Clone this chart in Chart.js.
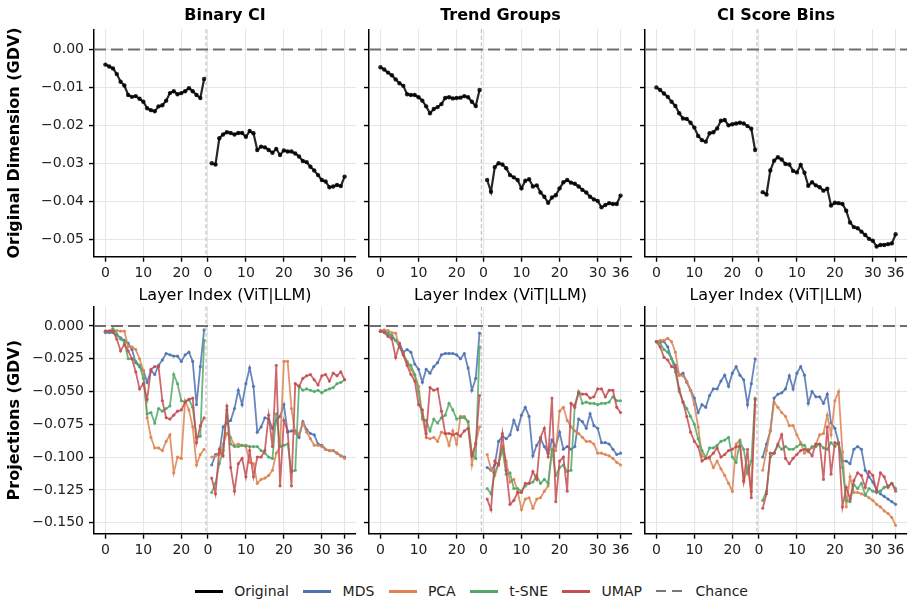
<!DOCTYPE html>
<html><head><meta charset="utf-8">
<script src="https://cdn.jsdelivr.net/npm/chart.js@4.4.1/dist/chart.umd.min.js"></script>
<style>
html,body{margin:0;padding:0;background:#fff;}
body{width:915px;height:605px;position:relative;overflow:hidden;font-family:"DejaVu Sans",sans-serif;}
canvas{position:absolute;}
.ptitle{position:absolute;top:5px;height:19px;line-height:19px;font-size:16px;font-weight:bold;text-align:center;color:#000;}
#legend{position:absolute;left:195px;top:581px;height:20px;display:flex;align-items:center;font-size:14px;color:#222;white-space:nowrap;}
.litem{display:flex;align-items:center;margin-right:14.4px;}
.litem:last-child{margin-right:0;}
.lsw{width:28px;height:3px;margin-right:11.2px;}
</style></head><body>
<div id="legend"></div>
<script>
// ---------------- DATA ----------------
const PANELS = ['Binary CI', 'Trend Groups', 'CI Score Bins'];
const METHODS = ['MDS', 'PCA', 't-SNE', 'UMAP'];
const LAYER_VIT = [0,1,2,3,4,5,6,7,8,9,10,11,12,13,14,15,16,17,18,19,20,21,22,23,24,25,26];
const LAYER_LLM = [1,2,3,4,5,6,7,8,9,10,11,12,13,14,15,16,17,18,19,20,21,22,23,24,25,26,27,28,29,30,31,32,33,34,35,36];
const X_TICKS_VIT = [0, 10, 20];
const X_TICKS_LLM = [0, 10, 20, 30, 36];
const Y_TICKS_TOP = [0, -0.01, -0.02, -0.03, -0.04, -0.05];
const Y_TICKS_BOTTOM = [0, -0.025, -0.05, -0.075, -0.1, -0.125, -0.15];
const CHANCE = 0;

// Original dimension GDV
const ORIG_BINARY_VIT = [-0.0040,-0.0045,-0.0050,-0.0065,-0.0085,-0.0095,-0.0120,-0.0125,-0.0123,-0.0130,-0.0138,-0.0155,-0.0160,-0.0163,-0.0150,-0.0147,-0.0135,-0.0115,-0.0110,-0.0118,-0.0115,-0.0110,-0.0102,-0.0110,-0.0120,-0.0128,-0.0078];
const ORIG_BINARY_LLM = [-0.0300,-0.0303,-0.0234,-0.0224,-0.0218,-0.0220,-0.0224,-0.0220,-0.0220,-0.0230,-0.0215,-0.0221,-0.0265,-0.0256,-0.0258,-0.0265,-0.0272,-0.0262,-0.0278,-0.0266,-0.0269,-0.0269,-0.0274,-0.0282,-0.0294,-0.0297,-0.0309,-0.0319,-0.0331,-0.0344,-0.0348,-0.0363,-0.0361,-0.0357,-0.0360,-0.0335];
const ORIG_TREND_VIT = [-0.0047,-0.0053,-0.0061,-0.0068,-0.0079,-0.0089,-0.0096,-0.0118,-0.0120,-0.0120,-0.0126,-0.0135,-0.0150,-0.0168,-0.0157,-0.0152,-0.0144,-0.0128,-0.0126,-0.0129,-0.0128,-0.0127,-0.0123,-0.0126,-0.0138,-0.0149,-0.0107];
const ORIG_TREND_LLM = [-0.0344,-0.0375,-0.0310,-0.0300,-0.0303,-0.0313,-0.0331,-0.0337,-0.0344,-0.0366,-0.0346,-0.0342,-0.0361,-0.0358,-0.0377,-0.0388,-0.0404,-0.0390,-0.0384,-0.0366,-0.0350,-0.0344,-0.0351,-0.0354,-0.0361,-0.0370,-0.0377,-0.0388,-0.0395,-0.0399,-0.0416,-0.0410,-0.0405,-0.0407,-0.0407,-0.0385];
const ORIG_CISCORE_VIT = [-0.0100,-0.0107,-0.0116,-0.0125,-0.0138,-0.0149,-0.0168,-0.0182,-0.0183,-0.0193,-0.0206,-0.0228,-0.0239,-0.0243,-0.0221,-0.0218,-0.0208,-0.0188,-0.0186,-0.0200,-0.0197,-0.0195,-0.0193,-0.0195,-0.0202,-0.0209,-0.0265];
const ORIG_CISCORE_LLM = [-0.0376,-0.0382,-0.0319,-0.0293,-0.0284,-0.0290,-0.0302,-0.0303,-0.0320,-0.0324,-0.0304,-0.0325,-0.0359,-0.0350,-0.0358,-0.0363,-0.0372,-0.0367,-0.0411,-0.0404,-0.0405,-0.0407,-0.0425,-0.0456,-0.0468,-0.0471,-0.0480,-0.0489,-0.0499,-0.0504,-0.0519,-0.0515,-0.0515,-0.0513,-0.0511,-0.0487];

// Projections GDV — Binary CI
const MDS_BINARY_VIT = [-0.005,-0.005,-0.005,-0.007,-0.009,-0.011,-0.013,-0.018,-0.028,-0.031,-0.034,-0.043,-0.034,-0.037,-0.030,-0.026,-0.021,-0.022,-0.023,-0.023,-0.027,-0.022,-0.020,-0.027,-0.060,-0.031,-0.003];
const MDS_BINARY_LLM = [-0.106,-0.098,-0.097,-0.077,-0.074,-0.072,-0.063,-0.049,-0.060,-0.044,-0.032,-0.046,-0.081,-0.077,-0.070,-0.071,-0.078,-0.072,-0.069,-0.060,-0.081,-0.080,-0.080,-0.085,-0.073,-0.079,-0.082,-0.083,-0.090,-0.091,-0.094,-0.095,-0.095,-0.097,-0.099,-0.100];
const PCA_BINARY_VIT = [-0.004,-0.004,-0.0035,-0.0035,-0.004,-0.004,-0.016,-0.016,-0.018,-0.025,-0.034,-0.070,-0.085,-0.093,-0.093,-0.095,-0.088,-0.083,-0.112,-0.100,-0.101,-0.057,-0.064,-0.077,-0.106,-0.098,-0.094];
const PCA_BINARY_LLM = [-0.100,-0.099,-0.098,-0.090,-0.082,-0.085,-0.091,-0.090,-0.091,-0.092,-0.104,-0.105,-0.120,-0.117,-0.116,-0.114,-0.110,-0.097,-0.092,-0.027,-0.027,-0.063,-0.082,-0.082,-0.074,-0.081,-0.086,-0.091,-0.091,-0.092,-0.094,-0.095,-0.095,-0.097,-0.099,-0.101];
const TSNE_BINARY_VIT = [-0.004,-0.004,-0.002,-0.006,-0.010,-0.012,-0.025,-0.025,-0.027,-0.030,-0.040,-0.067,-0.066,-0.074,-0.063,-0.065,-0.063,-0.061,-0.037,-0.044,-0.057,-0.058,-0.056,-0.062,-0.085,-0.084,-0.011];
const TSNE_BINARY_LLM = [-0.127,-0.120,-0.105,-0.095,-0.064,-0.090,-0.092,-0.092,-0.091,-0.091,-0.092,-0.092,-0.092,-0.095,-0.097,-0.100,-0.101,-0.067,-0.092,-0.091,-0.090,-0.111,-0.110,-0.046,-0.049,-0.048,-0.049,-0.050,-0.049,-0.051,-0.049,-0.048,-0.047,-0.044,-0.043,-0.041];
const UMAP_BINARY_VIT = [-0.004,-0.004,-0.004,-0.010,-0.019,-0.014,-0.019,-0.025,-0.035,-0.048,-0.044,-0.056,-0.033,-0.031,-0.031,-0.057,-0.070,-0.071,-0.068,-0.065,-0.064,-0.058,-0.056,-0.055,-0.089,-0.076,-0.070];
const UMAP_BINARY_LLM = [-0.116,-0.128,-0.094,-0.099,-0.061,-0.108,-0.126,-0.105,-0.101,-0.115,-0.095,-0.115,-0.100,-0.100,-0.095,-0.068,-0.092,-0.030,-0.122,-0.072,-0.080,-0.122,-0.044,-0.046,-0.040,-0.038,-0.037,-0.041,-0.045,-0.038,-0.037,-0.042,-0.036,-0.038,-0.035,-0.041];

// Projections GDV — Trend Groups
const MDS_TREND_VIT = [-0.004,-0.004,-0.0055,-0.008,-0.011,-0.013,-0.020,-0.018,-0.020,-0.029,-0.033,-0.043,-0.033,-0.036,-0.031,-0.028,-0.022,-0.021,-0.021,-0.021,-0.022,-0.025,-0.021,-0.032,-0.049,-0.040,-0.0055];
const MDS_TREND_LLM = [-0.108,-0.110,-0.106,-0.088,-0.084,-0.086,-0.083,-0.072,-0.079,-0.068,-0.062,-0.069,-0.099,-0.091,-0.086,-0.092,-0.097,-0.087,-0.092,-0.081,-0.094,-0.092,-0.094,-0.092,-0.071,-0.073,-0.078,-0.067,-0.076,-0.078,-0.089,-0.089,-0.090,-0.094,-0.098,-0.097];
const PCA_TREND_VIT = [-0.0035,-0.003,-0.0035,-0.005,-0.0055,-0.016,-0.021,-0.027,-0.033,-0.0375,-0.046,-0.069,-0.085,-0.086,-0.085,-0.088,-0.081,-0.082,-0.091,-0.080,-0.090,-0.069,-0.069,-0.073,-0.106,-0.089,-0.077];
const PCA_TREND_LLM = [-0.098,-0.109,-0.114,-0.105,-0.092,-0.103,-0.119,-0.117,-0.126,-0.140,-0.132,-0.131,-0.139,-0.132,-0.131,-0.126,-0.122,-0.095,-0.095,-0.065,-0.062,-0.072,-0.077,-0.080,-0.082,-0.085,-0.088,-0.088,-0.090,-0.097,-0.097,-0.098,-0.099,-0.101,-0.104,-0.106];
const TSNE_TREND_VIT = [-0.004,-0.004,-0.006,-0.007,-0.011,-0.016,-0.022,-0.028,-0.030,-0.037,-0.050,-0.071,-0.072,-0.080,-0.071,-0.074,-0.070,-0.068,-0.059,-0.064,-0.071,-0.070,-0.070,-0.073,-0.097,-0.101,-0.016];
const TSNE_TREND_LLM = [-0.124,-0.128,-0.112,-0.105,-0.094,-0.113,-0.112,-0.124,-0.124,-0.126,-0.122,-0.120,-0.119,-0.114,-0.120,-0.117,-0.120,-0.094,-0.114,-0.108,-0.106,-0.111,-0.110,-0.060,-0.050,-0.059,-0.058,-0.059,-0.059,-0.060,-0.059,-0.059,-0.058,-0.054,-0.057,-0.057];
const UMAP_TREND_VIT = [-0.004,-0.005,-0.008,-0.010,-0.024,-0.014,-0.022,-0.030,-0.037,-0.042,-0.060,-0.064,-0.082,-0.047,-0.049,-0.048,-0.065,-0.082,-0.082,-0.083,-0.082,-0.084,-0.080,-0.078,-0.099,-0.090,-0.053];
const UMAP_TREND_LLM = [-0.132,-0.140,-0.103,-0.106,-0.082,-0.110,-0.136,-0.133,-0.127,-0.127,-0.120,-0.120,-0.111,-0.117,-0.085,-0.078,-0.100,-0.055,-0.134,-0.103,-0.100,-0.126,-0.059,-0.062,-0.051,-0.052,-0.052,-0.055,-0.054,-0.048,-0.048,-0.054,-0.049,-0.049,-0.062,-0.066];

// Projections GDV — CI Score Bins
const MDS_CISCORE_VIT = [-0.012,-0.012,-0.012,-0.016,-0.025,-0.030,-0.0375,-0.036,-0.043,-0.049,-0.055,-0.066,-0.060,-0.062,-0.053,-0.048,-0.048,-0.042,-0.0375,-0.046,-0.036,-0.031,-0.0375,-0.041,-0.060,-0.044,-0.025];
const MDS_CISCORE_LLM = [-0.100,-0.090,-0.080,-0.055,-0.052,-0.051,-0.048,-0.038,-0.048,-0.036,-0.031,-0.0375,-0.059,-0.050,-0.054,-0.054,-0.059,-0.052,-0.074,-0.078,-0.089,-0.103,-0.103,-0.105,-0.094,-0.092,-0.094,-0.110,-0.115,-0.119,-0.125,-0.128,-0.130,-0.132,-0.134,-0.136];
const PCA_CISCORE_VIT = [-0.012,-0.011,-0.011,-0.0095,-0.012,-0.020,-0.0375,-0.038,-0.042,-0.049,-0.060,-0.077,-0.099,-0.101,-0.101,-0.108,-0.103,-0.109,-0.114,-0.120,-0.126,-0.090,-0.087,-0.119,-0.108,-0.126,-0.060];
const PCA_CISCORE_LLM = [-0.110,-0.095,-0.080,-0.058,-0.062,-0.066,-0.069,-0.076,-0.076,-0.083,-0.089,-0.097,-0.094,-0.093,-0.090,-0.083,-0.082,-0.068,-0.083,-0.057,-0.050,-0.096,-0.138,-0.115,-0.127,-0.127,-0.128,-0.129,-0.131,-0.133,-0.136,-0.138,-0.141,-0.143,-0.146,-0.152];
const TSNE_CISCORE_VIT = [-0.012,-0.013,-0.018,-0.020,-0.025,-0.035,-0.050,-0.058,-0.063,-0.069,-0.075,-0.086,-0.095,-0.100,-0.093,-0.093,-0.091,-0.088,-0.087,-0.085,-0.100,-0.104,-0.088,-0.094,-0.112,-0.103,-0.055];
const TSNE_CISCORE_LLM = [-0.133,-0.126,-0.100,-0.097,-0.091,-0.094,-0.092,-0.094,-0.094,-0.092,-0.090,-0.091,-0.096,-0.092,-0.092,-0.090,-0.093,-0.094,-0.089,-0.092,-0.089,-0.108,-0.133,-0.134,-0.121,-0.124,-0.120,-0.129,-0.124,-0.126,-0.127,-0.126,-0.123,-0.122,-0.120,-0.124];
const UMAP_CISCORE_VIT = [-0.012,-0.016,-0.024,-0.026,-0.031,-0.032,-0.048,-0.058,-0.069,-0.081,-0.088,-0.092,-0.103,-0.101,-0.100,-0.097,-0.093,-0.100,-0.098,-0.095,-0.094,-0.092,-0.092,-0.118,-0.094,-0.131,-0.056];
const UMAP_CISCORE_LLM = [-0.139,-0.128,-0.097,-0.097,-0.090,-0.083,-0.101,-0.105,-0.101,-0.098,-0.095,-0.094,-0.095,-0.099,-0.090,-0.090,-0.117,-0.077,-0.113,-0.089,-0.090,-0.138,-0.123,-0.132,-0.118,-0.112,-0.114,-0.123,-0.111,-0.114,-0.126,-0.112,-0.115,-0.123,-0.120,-0.126];

// ---------------- STYLE / LAYOUT ----------------
const COLORS = {Original:'rgba(0,0,0,0.85)', MDS:'rgba(76,114,176,0.85)', PCA:'rgba(221,132,82,0.85)', 't-SNE':'rgba(85,168,104,0.85)', UMAP:'rgba(196,78,82,0.85)', Chance:'#6e6e6e'};
const LEG_COLORS = {Original:'#000', MDS:'#4C72B0', PCA:'#DD8452', 't-SNE':'#55A868', UMAP:'#C44E52'};
const X_MIN = -3, X_MAX = 66;
const Y_RANGE = [{min:-0.0546, max:0.0053}, {min:-0.1584, max:0.0147}];
const COL_GEOM = [ {plotL:94, plotR:356, canvasL:0, padR:6}, {plotL:369, plotR:632, canvasL:359, padR:6}, {plotL:645, plotR:907, canvasL:635, padR:8} ];
const ROW_GEOM = [ {canvasT:0, plotT:29.3, plotB:256.7, canvasB:305}, {canvasT:300, plotT:306.7, plotB:533.7, canvasB:565} ];

Chart.defaults.font.family = '"DejaVu Sans", sans-serif';

const OFFSET = LAYER_VIT.length;
const X_TICK_POS = X_TICKS_VIT.concat(X_TICKS_LLM.map(l => OFFSET + l));
const X_TICK_LABEL = X_TICKS_VIT.concat(X_TICKS_LLM).map(String);

const PANEL_DATA = [
  {orig:[ORIG_BINARY_VIT, ORIG_BINARY_LLM], proj:{MDS:[MDS_BINARY_VIT,MDS_BINARY_LLM], PCA:[PCA_BINARY_VIT,PCA_BINARY_LLM], 't-SNE':[TSNE_BINARY_VIT,TSNE_BINARY_LLM], UMAP:[UMAP_BINARY_VIT,UMAP_BINARY_LLM]}},
  {orig:[ORIG_TREND_VIT, ORIG_TREND_LLM], proj:{MDS:[MDS_TREND_VIT,MDS_TREND_LLM], PCA:[PCA_TREND_VIT,PCA_TREND_LLM], 't-SNE':[TSNE_TREND_VIT,TSNE_TREND_LLM], UMAP:[UMAP_TREND_VIT,UMAP_TREND_LLM]}},
  {orig:[ORIG_CISCORE_VIT, ORIG_CISCORE_LLM], proj:{MDS:[MDS_CISCORE_VIT,MDS_CISCORE_LLM], PCA:[PCA_CISCORE_VIT,PCA_CISCORE_LLM], 't-SNE':[TSNE_CISCORE_VIT,TSNE_CISCORE_LLM], UMAP:[UMAP_CISCORE_VIT,UMAP_CISCORE_LLM]}}
];

function buildPoints(vit, llm) {
  const pts = vit.map((v, i) => ({x: LAYER_VIT[i], y: v}));
  pts.push({x: OFFSET - 0.5, y: null});
  llm.forEach((v, i) => pts.push({x: OFFSET + LAYER_LLM[i], y: v}));
  return pts;
}
function fmtY(v, dec) {
  const s = Math.abs(v).toFixed(dec);
  return (v < -1e-12 ? '\u2212' : '') + s;
}

const dividerPlugin = {
  id: 'divider',
  beforeDatasetsDraw(chart) {
    const {ctx, chartArea} = chart;
    const x = chart.scales.x.getPixelForValue(OFFSET - 0.5);
    ctx.save();
    ctx.strokeStyle = 'rgba(190,190,190,0.9)';
    ctx.lineWidth = 1.3;
    ctx.setLineDash([4, 2.5]);
    ctx.beginPath();
    ctx.moveTo(x, chartArea.top);
    ctx.lineTo(x, chartArea.bottom);
    ctx.stroke();
    ctx.restore();
  }
};

function lineDs(label, pts, width, radius, order, color) {
  return {label, data: pts, borderColor: color, backgroundColor: color, borderWidth: width,
    pointRadius: radius, pointBorderWidth: 0, pointBackgroundColor: color, pointHoverRadius: 0,
    tension: 0, spanGaps: false, fill: false, order};
}

function makeChart(row, col) {
  const cg = COL_GEOM[col], rg = ROW_GEOM[row];
  const cv = document.createElement('canvas');
  const w = cg.plotR + cg.padR - cg.canvasL;
  const h = rg.canvasB - rg.canvasT;
  cv.width = w; cv.height = h;
  cv.style.left = cg.canvasL + 'px'; cv.style.top = rg.canvasT + 'px';
  cv.style.width = w + 'px'; cv.style.height = h + 'px';
  document.body.appendChild(cv);

  const pd = PANEL_DATA[col];
  const datasets = [];
  if (row === 0) {
    datasets.push(lineDs('Original', buildPoints(pd.orig[0], pd.orig[1]), 2.2, 2.2, 2, COLORS.Original));
  } else {
    METHODS.forEach((m, i) => {
      datasets.push(lineDs(m, buildPoints(pd.proj[m][0], pd.proj[m][1]), 1.8, 1.6, 10 - i, COLORS[m]));
    });
  }
  const chance = lineDs('Chance', [{x: X_MIN, y: CHANCE}, {x: X_MAX, y: CHANCE}], 2, 0, 0, COLORS.Chance);
  chance.borderDash = [12, 5];
  datasets.push(chance);

  const yTicks = row === 0 ? Y_TICKS_TOP : Y_TICKS_BOTTOM;
  const yDec = row === 0 ? 2 : 3;
  const yAxisW = cg.plotL - cg.canvasL;
  const xAxisH = rg.canvasB - rg.plotB;
  const zeroPad = s => { s.paddingTop = 0; s.paddingBottom = 0; s.paddingLeft = 0; s.paddingRight = 0; };

  new Chart(cv, {
    type: 'line',
    data: {datasets},
    plugins: [dividerPlugin],
    options: {
      responsive: false, animation: false, devicePixelRatio: 1, events: [],
      layout: {padding: {top: rg.plotT - rg.canvasT, right: cg.padR, left: 0, bottom: 0}},
      plugins: {legend: {display: false}, tooltip: {enabled: false}, title: {display: false}},
      scales: {
        x: {
          type: 'linear', min: X_MIN, max: X_MAX,
          afterBuildTicks: s => { s.ticks = X_TICK_POS.map(v => ({value: v})); },
          afterFit: s => { s.height = xAxisH; zeroPad(s); },
          ticks: {callback: v => X_TICK_LABEL[X_TICK_POS.indexOf(v)], font: {size: 14}, color: '#222', padding: 3, maxRotation: 0, autoSkip: false},
          grid: {color: '#e6e6e6', lineWidth: 1.1, tickLength: 5, tickColor: '#000', tickWidth: 1.4, drawTicks: true},
          border: {display: true, color: '#000', width: 1.5},
          title: {display: row === 0, text: 'Layer Index (ViT|LLM)', font: {size: 16}, color: '#000', padding: {top: 0, bottom: 0}}
        },
        y: {
          type: 'linear', min: Y_RANGE[row].min, max: Y_RANGE[row].max,
          afterBuildTicks: s => { s.ticks = yTicks.map(v => ({value: v})); },
          afterFit: s => { s.width = yAxisW; zeroPad(s); },
          ticks: {display: col === 0, callback: v => fmtY(v, yDec), font: {size: 14}, color: '#222', padding: 5},
          grid: {color: '#e6e6e6', lineWidth: 1.1, tickLength: 5, tickColor: '#000', tickWidth: 1.4, drawTicks: true},
          border: {display: true, color: '#000', width: 1.5},
          title: {display: col === 0, text: row === 0 ? 'Original Dimension (GDV)' : 'Projections (GDV)', font: {size: 16, weight: 'bold'}, color: '#000', padding: {top: 5, bottom: 0}}
        }
      }
    }
  });
}

for (let r = 0; r < 2; r++) for (let c = 0; c < 3; c++) makeChart(r, c);

// panel titles
PANELS.forEach((t, c) => {
  const d = document.createElement('div');
  d.className = 'ptitle';
  d.textContent = t;
  d.style.left = COL_GEOM[c].plotL + 'px';
  d.style.width = (COL_GEOM[c].plotR - COL_GEOM[c].plotL) + 'px';
  document.body.appendChild(d);
});

// legend
const leg = document.getElementById('legend');
['Original'].concat(METHODS).concat(['Chance']).forEach(name => {
  const it = document.createElement('div'); it.className = 'litem';
  const sw = document.createElement('div'); sw.className = 'lsw';
  if (name === 'Chance') {
    sw.style.background = 'repeating-linear-gradient(to right, #777 0px, #777 10px, transparent 10px, transparent 16px)';
    sw.style.height = '2.5px';
  } else {
    sw.style.background = LEG_COLORS[name];
  }
  const tx = document.createElement('span'); tx.textContent = name;
  it.appendChild(sw); it.appendChild(tx); leg.appendChild(it);
});
</script>
</body></html>
